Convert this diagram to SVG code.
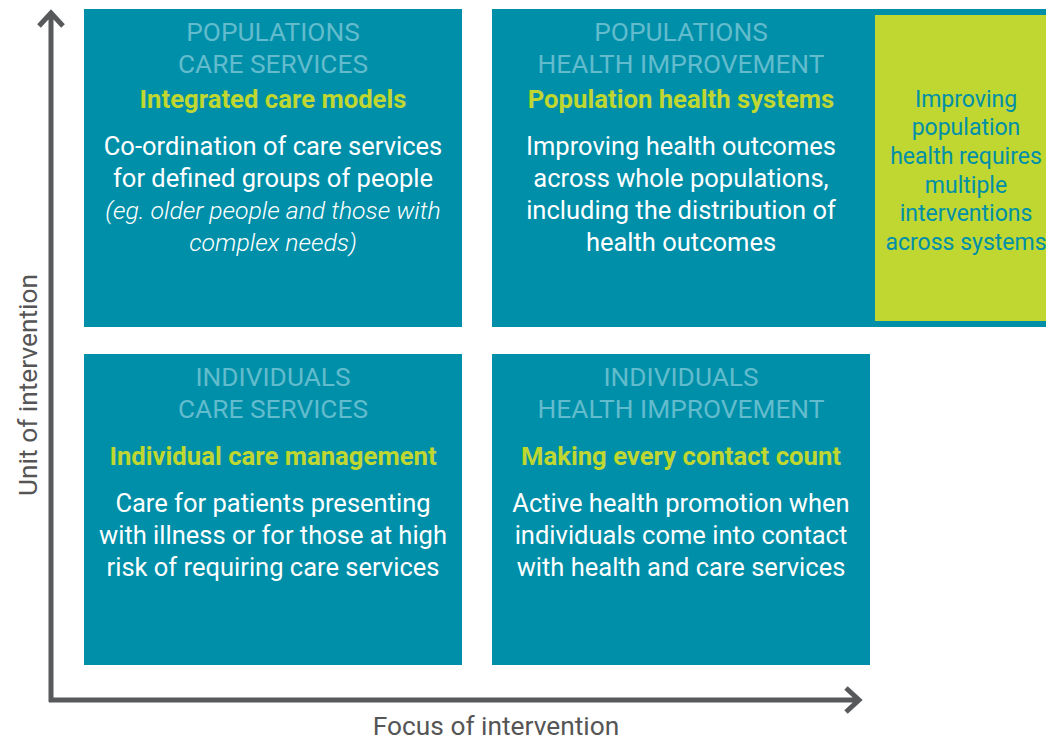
<svg xmlns="http://www.w3.org/2000/svg" width="1046" height="739" viewBox="0 0 1046 739">
<style>
.box{fill:#008fa9}
.hd{font-family:Roboto,"Liberation Sans",sans-serif;font-size:26.3px;fill:#62bccd;text-anchor:middle}
.sub{font-family:Roboto,"Liberation Sans",sans-serif;font-size:25.7px;font-weight:bold;fill:#bfd730;text-anchor:middle}
.bd{font-family:Roboto,"Liberation Sans",sans-serif;font-size:25.5px;fill:#ffffff;text-anchor:middle}
.it{font-style:italic;font-size:24.8px;font-weight:300}
.gt{font-family:Roboto,"Liberation Sans",sans-serif;font-size:23px;fill:#008fa9;text-anchor:middle}
.ax{font-family:Roboto,"Liberation Sans",sans-serif;font-size:26.3px;fill:#555555;text-anchor:middle}
.axl{stroke:#58595b;stroke-width:5;fill:none}
</style>
<rect width="1046" height="739" fill="#ffffff"/>
<g id="connectors">
<path class="axl" d="M51,702 V12 M39,26 L51,13 L63,26"/>
<path class="axl" d="M49,700 H858 M846,688 L859,700 L846,712"/>
</g>
<g id="pop-care">
<rect class="box" x="84" y="9" width="378" height="318"/>
<text class="hd" x="273" y="41">POPULATIONS</text>
<text class="hd" x="273" y="73">CARE SERVICES</text>
<text class="sub" x="273" y="108">Integrated care models</text>
<text class="bd" x="273" y="155">Co-ordination of care services</text>
<text class="bd" x="273" y="187">for defined groups of people</text>
<text class="bd it" x="273" y="219">(eg. older people and those with</text>
<text class="bd it" x="273" y="251">complex needs)</text>
</g>
<g id="pop-health">
<rect class="box" x="492" y="9" width="554" height="318"/>
<text class="hd" x="681" y="41">POPULATIONS</text>
<text class="hd" x="681" y="73">HEALTH IMPROVEMENT</text>
<text class="sub" x="681" y="108">Population health systems</text>
<text class="bd" x="681" y="155">Improving health outcomes</text>
<text class="bd" x="681" y="187">across whole populations,</text>
<text class="bd" x="681" y="219">including the distribution of</text>
<text class="bd" x="681" y="251">health outcomes</text>
</g>
<g id="multiple">
<rect x="875" y="15" width="171" height="306" fill="#bfd730"/>
<text class="gt" x="966" y="107">Improving</text>
<text class="gt" x="966" y="135">population</text>
<text class="gt" x="966" y="164">health requires</text>
<text class="gt" x="966" y="193">multiple</text>
<text class="gt" x="966" y="221">interventions</text>
<text class="gt" x="966" y="250">across systems</text>
</g>
<g id="ind-care">
<rect class="box" x="84" y="354" width="378" height="311"/>
<text class="hd" x="273" y="386">INDIVIDUALS</text>
<text class="hd" x="273" y="418">CARE SERVICES</text>
<text class="sub" x="273" y="465">Individual care management</text>
<text class="bd" x="273" y="512">Care for patients presenting</text>
<text class="bd" x="273" y="544">with illness or for those at high</text>
<text class="bd" x="273" y="576">risk of requiring care services</text>
</g>
<g id="ind-health">
<rect class="box" x="492" y="354" width="378" height="311"/>
<text class="hd" x="681" y="386">INDIVIDUALS</text>
<text class="hd" x="681" y="418">HEALTH IMPROVEMENT</text>
<text class="sub" x="681" y="465">Making every contact count</text>
<text class="bd" x="681" y="512">Active health promotion when</text>
<text class="bd" x="681" y="544">individuals come into contact</text>
<text class="bd" x="681" y="576">with health and care services</text>
</g>
<text class="ax" x="496" y="735">Focus of intervention</text>
<text class="ax" transform="translate(37,385) rotate(-90)">Unit of intervention</text>
</svg>
